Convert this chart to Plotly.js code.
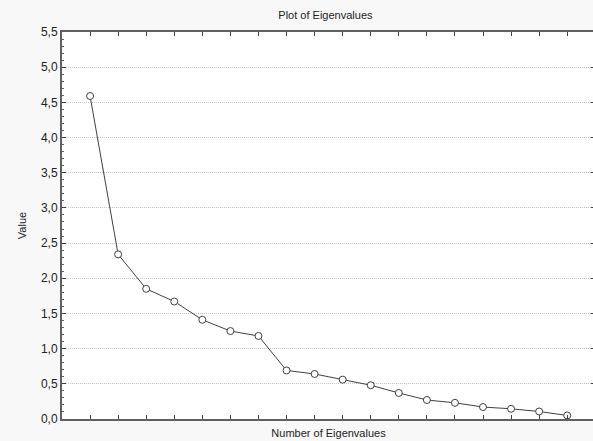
<!DOCTYPE html>
<html>
<head>
<meta charset="utf-8">
<script src="https://cdn.plot.ly/plotly-3.0.1.min.js"></script>
<style>html,body{margin:0;padding:0;background:#f8f8f8;overflow:hidden;}</style>
</head>
<body>
<div id="chart" style="width:596px;height:441px;"></div>
<script>
const eigenNumbers = [1,2,3,4,5,6,7,8,9,10,11,12,13,14,15,16,17,18];
const eigenValues = [4.59,2.34,1.85,1.67,1.41,1.25,1.18,0.69,0.64,0.56,0.48,0.37,0.27,0.23,0.17,0.145,0.107,0.05];
const yTicks = [0,0.5,1,1.5,2,2.5,3,3.5,4,4.5,5,5.5];

const trace = {
  x: eigenNumbers,
  y: eigenValues,
  type: 'scatter',
  mode: 'lines+markers',
  line: {color: '#404040', width: 1},
  marker: {symbol: 'circle', size: 7, color: '#ffffff', line: {color: '#404040', width: 1}},
  cliponaxis: false,
  hoverinfo: 'skip'
};

const layout = {
  width: 596,
  height: 441,
  paper_bgcolor: '#f8f8f8',
  plot_bgcolor: '#ffffff',
  separators: ',.',
  margin: {l: 62, r: 1, t: 32, b: 22},
  showlegend: false,
  font: {family: 'Liberation Sans, Arial, sans-serif', color: '#222222', size: 12},
  title: {text: 'Plot of Eigenvalues', x: 0.546, xanchor: 'center', y: 0.965, yanchor: 'middle', font: {size: 11, color: '#222222'}},
  xaxis: {
    range: [0, 18.99],
    tickvals: eigenNumbers,
    showticklabels: false,
    ticks: 'inside', ticklen: 4, tickcolor: '#404040',
    showgrid: false, zeroline: false,
    showline: true, linecolor: '#606060', linewidth: 2, mirror: 'ticks',
    title: {text: 'Number of Eigenvalues', standoff: 9, font: {size: 11, color: '#222222'}}
  },
  yaxis: {
    range: [0, 5.5],
    tickvals: yTicks,
    tickformat: '.1f',
    ticks: 'inside', ticklen: 4, tickcolor: '#404040',
    minor: {dtick: 0.1, ticks: 'inside', ticklen: 2, tickcolor: '#606060', showgrid: false},
    showgrid: true, gridcolor: '#c4c4c4', griddash: '1px,1px', gridwidth: 1,
    zeroline: false,
    showline: true, linecolor: '#606060', linewidth: 2, mirror: 'ticks',
    tickfont: {size: 12, color: '#222222'},
    title: {text: 'Value', standoff: 12, font: {size: 11, color: '#222222'}}
  }
};

Plotly.newPlot('chart', [trace], layout, {displayModeBar: false, staticPlot: true});
</script>
</body>
</html>
